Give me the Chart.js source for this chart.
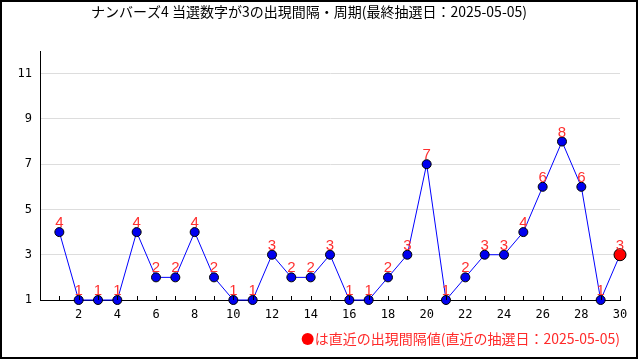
<!DOCTYPE html>
<html>
<head>
<meta charset="utf-8">
<script src="https://cdn.jsdelivr.net/npm/chart.js@4.4.0/dist/chart.umd.min.js"></script>
<style>
  body { margin: 0; background: #fff; }
  #wrap { width: 640px; height: 360px; }
</style>
</head>
<body>
<div id="wrap"><canvas id="chart" width="640" height="360"></canvas></div>
<script>
const titleText = 'ナンバーズ4 当選数字が3の出現間隔・周期(最終抽選日：2025-05-05)';
const noteText = 'は直近の出現間隔値(直近の抽選日：2025-05-05)';

// x = 出現回, y = 出現間隔
const draws = [1, 2, 3, 4, 5, 6, 7, 8, 9, 10, 11, 12, 13, 14, 15,
               16, 17, 18, 19, 20, 21, 22, 23, 24, 25, 26, 27, 28, 29, 30];
const intervals = [4, 1, 1, 1, 4, 2, 2, 4, 2, 1, 1, 3, 2, 2, 3,
                   1, 1, 2, 3, 7, 1, 2, 3, 3, 4, 6, 8, 6, 1, 3];
const yTicks = [1, 3, 5, 7, 9, 11];

const lastIdx = intervals.length - 1;
const pointColors = intervals.map((v, i) => i === lastIdx ? '#ff0000' : '#0000ee');
const pointSizes = intervals.map((v, i) => i === lastIdx ? 6 : 4.5);

const extras = {
    id: 'extras',
    afterDatasetsDraw(chart) {
        const ctx = chart.ctx;
        const meta = chart.getDatasetMeta(0);
        ctx.save();
        ctx.fillStyle = '#ff3030';
        ctx.font = '15px "Liberation Sans", Arial, sans-serif';
        ctx.textAlign = 'center';
        ctx.textBaseline = 'alphabetic';
        meta.data.forEach((pt, i) => {
            ctx.fillText(String(intervals[i]), pt.x, pt.y - 5);
        });
        ctx.restore();
    },
    afterDraw(chart) {
        const ctx = chart.ctx;
        const xs = chart.scales.x;
        const area = chart.chartArea;
        ctx.save();
        // tick marks pointing into the plot
        ctx.strokeStyle = '#000';
        ctx.lineWidth = 1;
        draws.forEach(d => {
            const px = Math.round(xs.getPixelForValue(d)) + 0.5;
            ctx.beginPath();
            ctx.moveTo(px, area.bottom);
            ctx.lineTo(px, area.bottom - 4);
            ctx.stroke();
        });
        // title
        ctx.fillStyle = '#000';
        ctx.font = '14px "Noto Sans CJK JP", sans-serif';
        ctx.textAlign = 'center';
        ctx.textBaseline = 'middle';
        ctx.fillText(titleText, 309, 12);
        // footer note
        ctx.fillStyle = '#ff2a2a';
        ctx.font = '14px "Noto Sans CJK JP", sans-serif';
        ctx.textAlign = 'right';
        ctx.fillText(noteText, 620, 339);
        const w = ctx.measureText(noteText).width;
        ctx.beginPath();
        ctx.arc(620 - w - 7, 339, 6, 0, Math.PI * 2);
        ctx.fillStyle = '#ff0000';
        ctx.fill();
        // outer frame
        ctx.strokeStyle = '#000';
        ctx.lineWidth = 2;
        ctx.strokeRect(1, 1, 636, 357);
        ctx.restore();
    }
};

new Chart(document.getElementById('chart'), {
    type: 'line',
    data: {
        datasets: [{
            data: draws.map((d, i) => ({ x: d, y: intervals[i] })),
            borderColor: '#0000ff',
            borderWidth: 1,
            pointBackgroundColor: pointColors,
            pointBorderColor: '#000',
            pointBorderWidth: 1,
            pointRadius: pointSizes,
            tension: 0,
            clip: false
        }]
    },
    options: {
        responsive: false,
        animation: false,
        layout: { padding: { top: 51, bottom: 30, left: 0, right: 20 } },
        plugins: {
            legend: { display: false },
            title: { display: false },
            tooltip: { enabled: false }
        },
        scales: {
            x: {
                type: 'linear',
                min: 0,
                max: 30,
                afterBuildTicks: s => { s.ticks = [0].concat(draws).map(v => ({ value: v })); },
                afterFit: s => { s.height = 30; },
                grid: { display: false },
                border: { display: true, color: '#000', width: 1 },
                ticks: {
                    padding: 0,
                    maxRotation: 0,
                    autoSkip: false,
                    color: '#000',
                    font: { family: '"DejaVu Sans Mono", monospace', size: 12 },
                    callback: v => (v > 0 && v % 2 === 0) ? String(v) : ''
                }
            },
            y: {
                min: 1,
                max: 12,
                afterBuildTicks: s => { s.ticks = yTicks.map(v => ({ value: v })); },
                afterFit: s => { s.width = 40; },
                grid: { color: '#dddddd', drawTicks: false },
                border: { display: true, color: '#000', width: 1 },
                ticks: {
                    padding: 8,
                    color: '#000',
                    font: { family: '"DejaVu Sans Mono", monospace', size: 12 }
                }
            }
        }
    },
    plugins: [extras]
});
</script>
</body>
</html>
